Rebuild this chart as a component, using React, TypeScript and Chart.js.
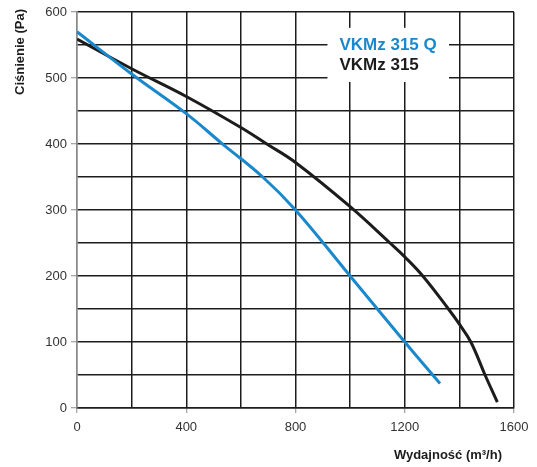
import React, { useEffect, useRef } from 'react';
import { Chart, registerables } from 'chart.js';

Chart.register(...registerables);

// Data
const flowQ = [0, 200, 400, 530, 680, 800, 1000, 1200, 1329];
const pressureQ = [570, 506, 446, 401, 350, 300, 200, 100, 37];

const flowStd = [0, 200, 400, 600, 695, 800, 1000, 1146, 1200, 1266, 1360, 1400, 1442, 1494, 1539];
const pressureStd = [559, 514, 472, 425, 400, 372, 305, 250, 229, 200, 150, 127, 100, 50, 9];

const seriesNames = ['VKMz 315 Q', 'VKMz 315'];
const seriesColors = ['#1a88cc', '#1c1c1c'];

const xTitle = 'Wydajność (m³/h)';
const yTitle = 'Ciśnienie (Pa)';

const FONT = "'Liberation Sans', Arial, Helvetica, sans-serif";

const toPoints = (xs: number[], ys: number[]) => xs.map((x, i) => ({ x, y: ys[i] }));

const overlayPlugin = {
  id: 'overlay',
  afterDraw(chart: any) {
    const { ctx, chartArea } = chart;
    const x = chart.scales.x;
    const y = chart.scales.y;
    ctx.save();
    // legend box (white, interrupts the grid)
    const bx0 = x.getPixelForValue(917);
    const bx1 = x.getPixelForValue(1362);
    const by0 = y.getPixelForValue(576);
    const by1 = y.getPixelForValue(494);
    ctx.fillStyle = '#ffffff';
    ctx.fillRect(bx0, by0, bx1 - bx0, by1 - by0);
    ctx.textBaseline = 'middle';
    ctx.textAlign = 'left';
    ctx.font = `bold 17px ${FONT}`;
    ctx.fillStyle = seriesColors[0];
    ctx.fillText(seriesNames[0], bx0 + 12, by0 + 17);
    ctx.fillStyle = seriesColors[1];
    ctx.fillText(seriesNames[1], bx0 + 12, by0 + 37);

    // axis titles
    ctx.fillStyle = '#1c1c1c';
    ctx.font = `bold 13px ${FONT}`;
    ctx.textAlign = 'right';
    ctx.fillText(xTitle, chartArea.right - 12, 455);

    ctx.translate(20, 52);
    ctx.rotate(-Math.PI / 2);
    ctx.textAlign = 'center';
    ctx.font = `bold 13px ${FONT}`;
    ctx.fillText(yTitle, 0, 0);
    ctx.restore();
  },
};

export default function App() {
  const ref = useRef<HTMLCanvasElement>(null);

  useEffect(() => {
    const canvas = ref.current;
    if (!canvas) return;
    const chart = new Chart(canvas, {
      type: 'line',
      data: {
        datasets: [
          {
            label: seriesNames[0],
            data: toPoints(flowQ, pressureQ),
            borderColor: seriesColors[0],
            backgroundColor: seriesColors[0],
            borderWidth: 3,
            pointRadius: 0,
            tension: 0.4,
            fill: false,
          },
          {
            label: seriesNames[1],
            data: toPoints(flowStd, pressureStd),
            borderColor: seriesColors[1],
            backgroundColor: seriesColors[1],
            borderWidth: 3,
            pointRadius: 0,
            tension: 0.4,
            fill: false,
          },
        ],
      },
      options: {
        responsive: false,
        animation: false,
        devicePixelRatio: 1,
        layout: { padding: { top: 12, right: 23, left: 0, bottom: 0 } },
        plugins: {
          legend: { display: false },
          tooltip: { enabled: false },
          title: { display: false },
        },
        scales: {
          x: {
            type: 'linear',
            min: 0,
            max: 1600,
            afterFit: (s: any) => {
              s.height = 59;
            },
            border: { display: true, color: '#1c1c1c', width: 1.5 },
            grid: {
              color: (c: any) => (c.tick && c.tick.value === 0 ? '#8a8a8a' : '#1c1c1c'),
              lineWidth: 1.5,
              drawTicks: true,
              tickLength: 5,
              tickColor: (c: any) => (c.tick && c.tick.value % 400 === 0 ? '#8a8a8a' : 'rgba(0,0,0,0)'),
              tickWidth: 1,
            },
            ticks: {
              stepSize: 200,
              autoSkip: false,
              maxRotation: 0,
              padding: 7,
              color: '#333333',
              font: { family: FONT, size: 13 },
              callback: (v: any) => (Number(v) % 400 === 0 ? String(v) : ''),
            },
          },
          y: {
            type: 'linear',
            min: 0,
            max: 600,
            afterFit: (s: any) => {
              s.width = 77;
            },
            border: { display: true, color: '#8a8a8a', width: 1.5 },
            grid: {
              color: '#1c1c1c',
              lineWidth: 1.5,
              drawTicks: true,
              tickLength: 6,
              tickColor: (c: any) => (c.tick && c.tick.value % 100 === 0 ? '#8a8a8a' : 'rgba(0,0,0,0)'),
              tickWidth: 1,
            },
            ticks: {
              stepSize: 50,
              autoSkip: false,
              padding: 4,
              color: '#333333',
              font: { family: FONT, size: 13 },
              callback: (v: any) => (Number(v) % 100 === 0 ? String(v) : ''),
            },
          },
        },
      },
      plugins: [overlayPlugin],
    } as any);
    return () => chart.destroy();
  }, []);

  return (
    <div style={{ position: 'absolute', left: 0, top: 0, width: 537, height: 467, background: '#ffffff' }}>
      <canvas ref={ref} width={537} height={467} style={{ display: 'block' }} />
    </div>
  );
}
